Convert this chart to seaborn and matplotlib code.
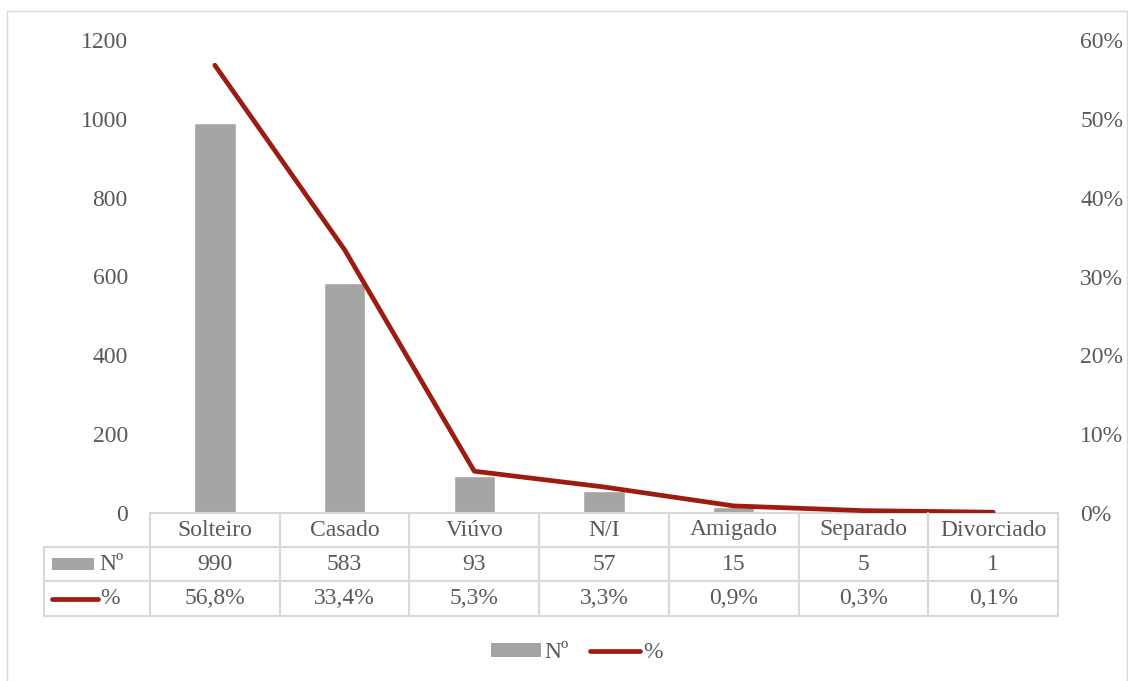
import matplotlib
matplotlib.use("Agg")
import matplotlib.pyplot as plt
import seaborn as sns
from matplotlib.lines import Line2D
from matplotlib.patches import Patch, Rectangle
from matplotlib.ticker import PercentFormatter

# data
categories = ["Solteiro", "Casado", "Viúvo", "N/I", "Amigado", "Separado", "Divorciado"]
counts = [990, 583, 93, 57, 15, 5, 1]
percents = [56.8, 33.4, 5.3, 3.3, 0.9, 0.3, 0.1]
pct_labels = ["56,8%", "33,4%", "5,3%", "3,3%", "0,9%", "0,3%", "0,1%"]

bar_color = "#A5A5A5"
line_color = "#9E1B12"
grid_color = "#D9D9D9"
text_color = "#595959"
fs = 17

sns.set_style("white")
plt.rcParams["font.family"] = ["Liberation Serif", "DejaVu Serif"]

W, H = 1128, 681
fig = plt.figure(figsize=(W / 100, H / 100), dpi=100)

# outer chart border
fig.add_artist(Rectangle((7 / W, -0.01), (W - 8) / W, (H - 11) / H + 0.01,
                         transform=fig.transFigure, fill=False,
                         edgecolor=grid_color, linewidth=1))

x0, x1 = 150, 1058
y_top, y_bot = 40, 513
ax = fig.add_axes([x0 / W, (H - y_bot) / H, (x1 - x0) / W, (y_bot - y_top) / H])

sns.barplot(x=categories, y=counts, ax=ax, color=bar_color, saturation=1, width=0.32)
ax.set_ylim(0, 1200)
ax.set_yticks(range(0, 1201, 200))
ax.set_xlim(-0.5, len(categories) - 0.5)
ax.set_xticks([])
ax.set_xlabel("")
ax.set_ylabel("")
ax.tick_params(axis="y", length=0, pad=16, labelsize=fs, labelcolor=text_color)
for s in ["top", "right", "left"]:
    ax.spines[s].set_visible(False)
ax.spines["bottom"].set_color(grid_color)
ax.spines["bottom"].set_linewidth(1.5)

ax2 = ax.twinx()
sns.lineplot(x=list(range(len(categories))), y=[p / 100 for p in percents], ax=ax2,
             color=line_color, linewidth=3.4, solid_capstyle="round")
ax2.set_ylim(0, 0.6)
ax2.set_yticks([0, 0.1, 0.2, 0.3, 0.4, 0.5, 0.6])
ax2.yaxis.set_major_formatter(PercentFormatter(1.0, decimals=0))
ax2.tick_params(axis="y", length=0, pad=16, labelsize=fs, labelcolor=text_color)
for s in ["top", "right", "left", "bottom"]:
    ax2.spines[s].set_visible(False)

# data table below the axes
def fx(px):
    return px / W

def fy(py):
    return 1 - py / H

rows = [513, 547, 581, 616]
col_w = (x1 - x0) / len(categories)
tbl_left = 44
for py in rows[1:]:
    fig.add_artist(Line2D([fx(tbl_left), fx(x1)], [fy(py), fy(py)], color=grid_color, lw=1.5))
for k in range(len(categories) + 1):
    px = x0 + k * col_w
    fig.add_artist(Line2D([fx(px), fx(px)], [fy(rows[0]), fy(rows[-1])], color=grid_color, lw=1.5))
fig.add_artist(Line2D([fx(tbl_left), fx(tbl_left)], [fy(rows[1]), fy(rows[-1])], color=grid_color, lw=1.5))

for i, cat in enumerate(categories):
    cx = fx(x0 + (i + 0.5) * col_w)
    fig.text(cx, fy((rows[0] + rows[1]) / 2), cat, ha="center", va="center",
             fontsize=fs, color=text_color)
    fig.text(cx, fy((rows[1] + rows[2]) / 2), str(counts[i]), ha="center", va="center",
             fontsize=fs, color=text_color)
    fig.text(cx, fy((rows[2] + rows[3]) / 2), pct_labels[i], ha="center", va="center",
             fontsize=fs, color=text_color)

# series keys in the table
ym = (rows[1] + rows[2]) / 2
fig.add_artist(Rectangle((fx(52), fy(ym + 6)), fx(94) - fx(52), fy(ym - 6) - fy(ym + 6),
                         transform=fig.transFigure, color=bar_color, lw=0))
fig.text(fx(99), fy(ym), "Nº", ha="left", va="center", fontsize=fs, color=text_color)
ym = (rows[2] + rows[3]) / 2
fig.add_artist(Line2D([fx(52), fx(98)], [fy(ym), fy(ym)], color=line_color, lw=3.4,
                      solid_capstyle="round"))
fig.text(fx(100), fy(ym), "%", ha="left", va="center", fontsize=fs, color=text_color)

# legend
handles = [Patch(facecolor=bar_color, edgecolor="none", label="Nº"),
           Line2D([], [], color=line_color, lw=3.4, solid_capstyle="round", label="%")]
fig.legend(handles=handles, loc="center", bbox_to_anchor=(fx(577), fy(653)), ncol=2,
           frameon=False, fontsize=fs, handlelength=2.1, handleheight=0.55,
           handletextpad=0.15, columnspacing=0.9, labelcolor=text_color)

fig.savefig("out.png", dpi=100)
